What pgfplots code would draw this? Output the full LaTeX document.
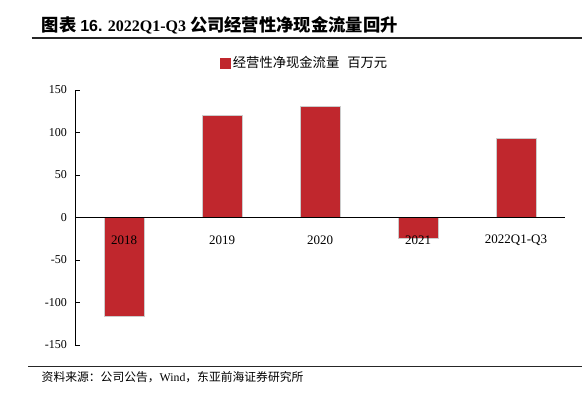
\documentclass[border=0pt]{standalone}
\usepackage{pgfplots}
\pgfplotsset{compat=1.18}
\usepackage{fontspec}
\setmainfont{Liberation Serif}
\newfontfamily\cjk{Noto Sans CJK SC}
\newfontfamily\arialb{Liberation Sans}
\definecolor{barred}{RGB}{192,39,45}
\begin{document}
\begin{tikzpicture}[x=1pt,y=1pt]
\path[use as bounding box] (0,0) rectangle (586,398);
% title
\node[anchor=west, inner sep=0pt, font=\fontsize{16}{18}\selectfont\bfseries] at (41.5,373)
  {{\cjk\fontsize{17.3}{19}\selectfont 图表} {\arialb 16.} 2022Q1-Q3 {\cjk\fontsize{17.3}{19}\selectfont 公司经营性净现金流量回升}};
\draw[line width=2pt, color=black!85] (31.5,360) -- (581.5,360);
% source
\draw[line width=1.3pt, color=black!85] (28,31.2) -- (581.5,31.2);
\node[anchor=west, inner sep=0pt, font=\fontsize{11.8}{13}\selectfont] at (41.5,21)
  {{\cjk 资料来源：公司公告，}Wind{\cjk ，东亚前海证券研究所}};
\begin{axis}[
  at={(75pt,53pt)}, anchor=south west,
  scale only axis, width=490pt, height=255pt,
  xmin=-0.5, xmax=4.5, ymin=-150, ymax=150,
  axis x line=middle, axis y line=left,
  axis line style={-, line width=0.9pt, black},
  hide obscured x ticks=false, hide obscured y ticks=false,
  xtick={0,1,2,3,4},
  xticklabels={2018,2019,2020,2021,2022Q1-Q3},
  xtick style={draw=none},
  xticklabel style={anchor=center, yshift=-18pt, font=\fontsize{13}{15}\selectfont},
  ytick={-150,-100,-50,0,50,100,150},
  yticklabels={-150,-100,-50,0,50,100,150},
  yticklabel style={font=\fontsize{12}{14}\selectfont, xshift=-4.5pt},
  ytick style={line width=0.9pt, black},
  major tick length=5pt,
  tick align=inside,
  ybar, bar width=40pt,
  axis on top,
  clip=false,
  legend style={at={(axis description cs:0.469,1.106)}, anchor=center, draw=none, fill=none,
    font=\fontsize{13.3}{15}\selectfont, inner sep=0pt},
]
\addplot[fill=barred, draw=black!20, line width=0.5pt,
  legend image code/.code={\fill[barred] (0pt,-5pt) rectangle (10pt,5pt);}]
  coordinates {(0,-116) (1,120) (2,131) (3,-24) (4,93.5)};
\addlegendentry{{\cjk 经营性净现金流量\hspace{0.6em}百万元}}
\end{axis}
\end{tikzpicture}
\end{document}
